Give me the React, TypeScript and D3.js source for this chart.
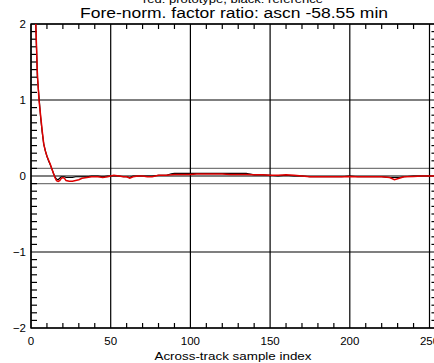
import React from "react";
import * as d3 from "d3";

const sampleIdx = [0,1,2,3,4,5,6,7,8,9,10,11,12,13,14,15,16,17,18,19,20,21,22,24,26,28,30,32,35,38,42,45,48,50,52,55,58,60,62,64,67,70,73,76,80,85,88,90,92,96,100,104,110,115,120,125,130,135,140,145,150,155,160,165,170,175,180,185,190,195,200,205,210,215,220,225,228,231,234,240,245,250,255];

const redVals = [4.0,3.0,2.5,2.0,1.35,1.0,0.8,0.6,0.42,0.33,0.26,0.21,0.16,0.1,0.04,-0.02,-0.06,-0.07,-0.06,-0.03,-0.02,-0.03,-0.06,-0.07,-0.07,-0.06,-0.05,-0.03,-0.02,-0.01,-0.01,-0.02,-0.01,0.0,0.01,0.0,-0.01,-0.01,-0.03,-0.01,0.0,0.0,-0.01,-0.01,0.01,0.01,0.015,0.02,0.02,0.02,0.02,0.025,0.025,0.025,0.025,0.02,0.02,0.02,0.015,0.015,0.01,0.01,0.015,0.01,0.0,-0.01,-0.01,-0.01,-0.01,-0.01,-0.005,-0.01,-0.01,-0.01,-0.01,-0.02,-0.05,-0.03,-0.01,-0.005,0.0,0.0,0.0];

const blackVals = [4.0,3.0,2.5,2.0,1.3,1.05,0.78,0.58,0.42,0.33,0.26,0.2,0.15,0.1,0.04,-0.01,-0.04,-0.05,-0.03,-0.01,-0.01,-0.01,-0.02,-0.02,-0.02,-0.01,-0.01,-0.01,-0.01,0.0,0.0,-0.01,0.0,0.0,0.0,0.0,-0.01,-0.01,-0.02,0.0,0.0,0.0,0.0,0.0,0.01,0.01,0.03,0.035,0.035,0.035,0.035,0.035,0.035,0.035,0.035,0.035,0.035,0.035,0.015,0.015,0.01,0.0,0.01,0.0,0.0,-0.01,-0.01,-0.01,-0.01,-0.01,0.0,-0.01,-0.01,-0.01,-0.01,-0.02,-0.02,-0.02,-0.01,0.0,0.0,0.0,0.0];

const xMajorTicks = [0, 50, 100, 150, 200, 250];
const yMajorTicks = [-2, -1, 0, 1, 2];
const yTickLabels = ["\u22122", "\u22121", "0", "1", "2"];
const guideLines = [-0.1, 0.1];

const titleText = "Fore-norm. factor ratio: ascn -58.55 min";
const subtitleText = "red: prototype, black: reference";
const xTitle = "Across-track sample index";

export default function App() {
  const W = 434, H = 363;
  const left = 31, top = 24, bottom = 328;
  const x = d3.scaleLinear().domain([0, 255]).range([left, left + 255 * (398.5 / 250)]);
  const y = d3.scaleLinear().domain([-2, 2]).range([bottom, top]);
  const right = x(255);

  const xMinor = d3.range(0, 256, 10).filter((v) => v % 50 !== 0);
  const yMinor = d3.range(-20, 21, 1).map((v) => v / 10).filter((v) => Math.abs(v - Math.round(v)) > 1e-6);

  const line = d3
    .line<number>()
    .x((_, i) => x(sampleIdx[i]))
    .y((d) => y(d));

  const font = "'Liberation Sans', Arial, sans-serif";

  return (
    <svg width={W} height={H} style={{ position: "absolute", left: 0, top: 0, background: "#fff" }}>
      <defs>
        <clipPath id="plotclip">
          <rect x={left} y={top} width={right - left} height={bottom - top} />
        </clipPath>
      </defs>
      <rect x={0} y={0} width={W} height={H} fill="#fff" />
      <text x={233} y={3} fontSize={11} fontFamily={font} textAnchor="middle" fill="#000" textLength={180} lengthAdjust="spacingAndGlyphs">
        {subtitleText}
      </text>
      <text x={234} y={18} fontSize={14} fontFamily={font} textAnchor="middle" fill="#000" textLength={308} lengthAdjust="spacingAndGlyphs">
        {titleText}
      </text>

      {/* guide lines at +/-0.1 */}
      {guideLines.map((v) => (
        <line key={"g" + v} x1={left} x2={right} y1={y(v)} y2={y(v)} stroke="#777" strokeWidth={1.2} />
      ))}
      {/* horizontal major gridlines */}
      {yMajorTicks.map((v) => (
        <line key={"hy" + v} x1={left} x2={right} y1={y(v)} y2={y(v)} stroke="#000" strokeWidth={1.2} />
      ))}
      {/* vertical gridlines */}
      {xMajorTicks.map((v) => (
        <line key={"vx" + v} x1={x(v)} x2={x(v)} y1={top} y2={bottom} stroke="#000" strokeWidth={1.2} />
      ))}
      {/* minor ticks */}
      {xMinor.map((v) => (
        <g key={"xm" + v}>
          <line x1={x(v)} x2={x(v)} y1={top} y2={top + 5} stroke="#000" strokeWidth={1.2} />
          <line x1={x(v)} x2={x(v)} y1={bottom} y2={bottom - 5} stroke="#000" strokeWidth={1.2} />
        </g>
      ))}
      {yMinor.map((v) => (
        <g key={"ym" + v}>
          <line x1={left} x2={left + 6} y1={y(v)} y2={y(v)} stroke="#000" strokeWidth={1.2} />
          <line x1={right} x2={right - 6} y1={y(v)} y2={y(v)} stroke="#000" strokeWidth={1.2} />
        </g>
      ))}
      <rect x={left} y={top} width={right - left} height={bottom - top} fill="none" stroke="#000" strokeWidth={1.4} />

      <g clipPath="url(#plotclip)">
        <path d={line(blackVals) || ""} fill="none" stroke="#000" strokeWidth={1.2} />
        <path d={line(redVals) || ""} fill="none" stroke="#e00000" strokeWidth={1.5} />
      </g>

      {xMajorTicks.map((v) => (
        <text key={"xl" + v} x={x(v)} y={345} fontSize={11.5} fontFamily={font} textAnchor="middle" fill="#000">
          {v}
        </text>
      ))}
      {yMajorTicks.map((v, i) => (
        <text key={"yl" + v} x={26} y={y(v) + 4} fontSize={11.5} fontFamily={font} textAnchor="end" fill="#000">
          {yTickLabels[i]}
        </text>
      ))}
      <text x={233} y={360} fontSize={11.5} fontFamily={font} textAnchor="middle" fill="#000" textLength={157} lengthAdjust="spacingAndGlyphs">
        {xTitle}
      </text>
    </svg>
  );
}
